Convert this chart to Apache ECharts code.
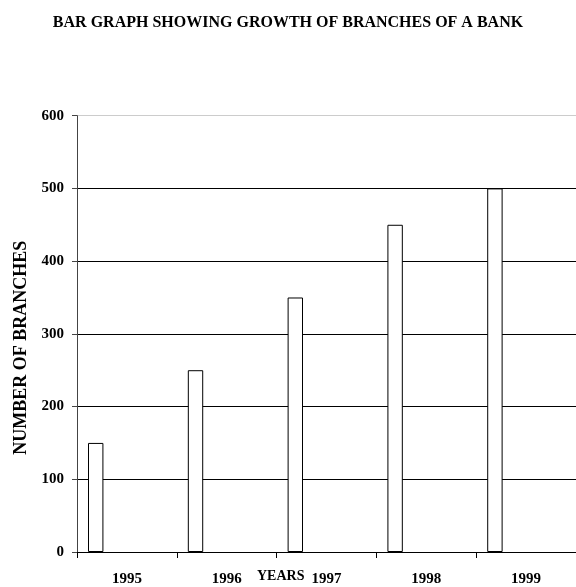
<!DOCTYPE html>
<html>
<head>
<meta charset="utf-8">
<script src="https://cdn.jsdelivr.net/npm/echarts@6/dist/echarts.min.js"></script>
<style>
html,body{margin:0;padding:0;background:#fff;}
#chart{width:576px;height:587px;}
</style>
</head>
<body>
<div id="chart"></div>
<script>
const titleText = 'BAR GRAPH SHOWING GROWTH OF BRANCHES OF A BANK';
const years = ['1995', '1996', '1997', '1998', '1999'];
const branches = [150, 250, 350, 450, 500];
const emptySeries = ['-', '-', '-', '-', '-'];
const xAxisTitle = 'YEARS';
const yAxisTitle = 'NUMBER OF BRANCHES';

const FONT = "'Liberation Serif', 'Times New Roman', serif";
const chart = echarts.init(document.getElementById('chart'), null, {renderer: 'canvas'});
chart.setOption({
  animation: false,
  backgroundColor: '#fff',
  title: {
    text: titleText,
    left: 'center',
    top: 10,
    textStyle: {fontFamily: FONT, fontWeight: 'bold', fontSize: 16, color: '#000'}
  },
  grid: {left: 77, top: 115.7, width: 502, height: 437.3, containLabel: false},
  xAxis: {
    type: 'category',
    data: years,
    boundaryGap: true,
    axisLine: {lineStyle: {color: '#000', width: 1}},
    axisTick: {show: true, length: 6, inside: false, lineStyle: {color: '#000'}},
    axisLabel: {margin: 20, fontFamily: FONT, fontWeight: 'bold', fontSize: 15, color: '#000'},
    splitLine: {show: false}
  },
  yAxis: {
    type: 'value',
    min: 0,
    max: 600,
    interval: 100,
    name: yAxisTitle,
    nameLocation: 'middle',
    nameRotate: 90,
    nameGap: 45,
    nameTextStyle: {fontFamily: FONT, fontWeight: 'bold', fontSize: 18, color: '#000', padding: [0, 28, 0, 0]},
    axisLine: {show: true, lineStyle: {color: '#444', width: 1}},
    axisTick: {show: true, length: 5, lineStyle: {color: '#444'}},
    axisLabel: {margin: 13, fontFamily: FONT, fontWeight: 'bold', fontSize: 15, color: '#000'},
    splitLine: {show: true, lineStyle: {color: ['#000', '#000', '#000', '#000', '#000', '#000', '#ccc'], width: 1}}
  },
  graphic: [{
    type: 'text',
    left: 257,
    top: 569,
    style: {text: xAxisTitle, font: "bold 14px 'Liberation Serif', 'Times New Roman', serif", fill: '#000'}
  }],
  series: [{
    type: 'bar',
    data: branches,
    barWidth: 15.4,
    barGap: '305%',
    itemStyle: {color: '#fff', borderColor: '#000', borderWidth: 1},
    silent: true
  }, {
    type: 'bar',
    data: emptySeries,
    barWidth: 15.4,
    silent: true
  }]
});
</script>
</body>
</html>
